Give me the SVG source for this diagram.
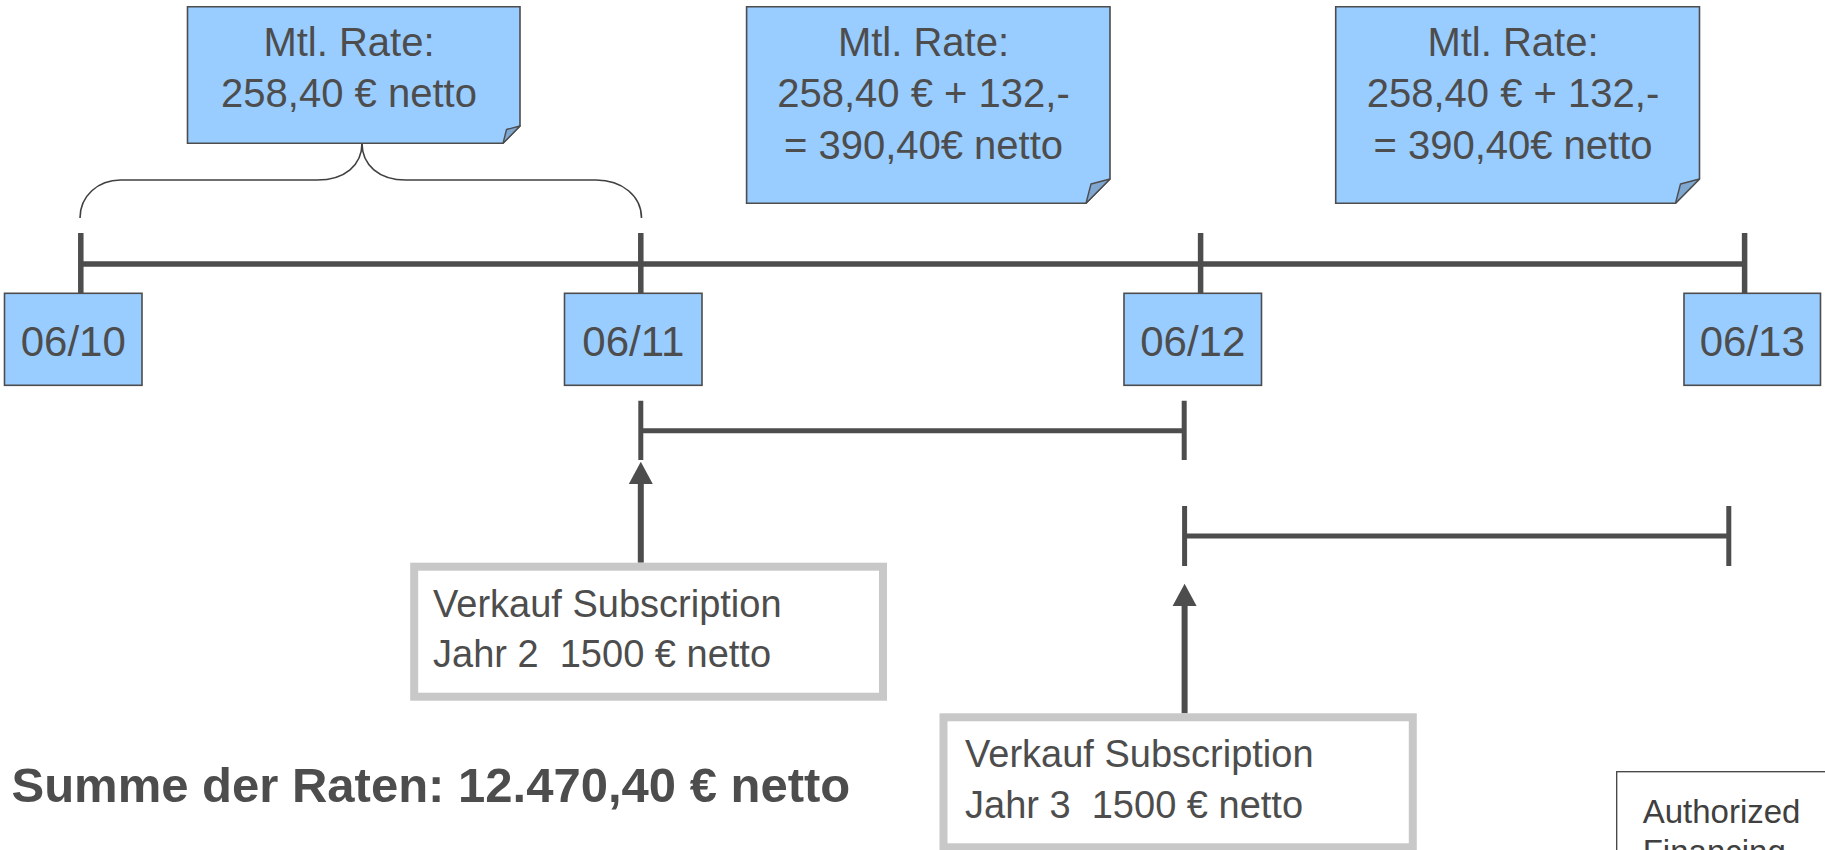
<svg xmlns="http://www.w3.org/2000/svg" width="1825" height="850" viewBox="0 0 1825 850">
<defs>
<style>
.note{fill:#99ccff;stroke:#4d4d4d;stroke-width:1.6;stroke-linejoin:miter}
.fold{fill:#7fa7d0;stroke:#4d4d4d;stroke-width:1.4;stroke-linejoin:round}
.date{fill:#99ccff;stroke:#4d4d4d;stroke-width:1.6}
.t{font-family:"Liberation Sans",Arial,sans-serif;fill:#4d4d4d}
.nt{font-size:40px;text-anchor:middle}
.dt{font-size:42px;text-anchor:middle}
.gt{font-size:38px}
.gbox{fill:#ffffff;stroke:#c8c8c8;stroke-width:8}
.bar{stroke:#4d4d4d;stroke-width:5.5;fill:none}
.bar2{stroke:#4d4d4d;stroke-width:5;fill:none}
.brace{stroke:#404040;stroke-width:1.6;fill:none}
.shaft{stroke:#4d4d4d;stroke-width:6;fill:none}
</style>
<marker id="ah" markerUnits="userSpaceOnUse" markerWidth="24" markerHeight="26" refX="0" refY="12" orient="auto" viewBox="0 0 24 24">
<path d="M0,0 L22.3,12 L0,24 Z" fill="#4d4d4d"/>
</marker>
</defs>

<g id="connectors">
<path class="bar" d="M80,264 H1744.6"/>
<path class="bar" d="M80.8,233 V293.3 M640.8,233 V293.3 M1200.6,233 V293.3 M1744.6,233 V293.3"/>
<path class="brace" d="M362,143.3 C362,165 345,180 317,180 H120.5 C98,180 80,196 80,218"/>
<path class="brace" d="M362,143.3 C362,165 379,180 406,180 H596 C622,180 641.5,196 641.5,218"/>
<path class="bar2" d="M640.8,400.7 V460 M640.8,430.7 H1184.2 M1184.2,400.7 V460"/>
<path class="bar2" d="M1184.6,506 V566 M1184.6,536 H1728.8 M1728.8,506 V566"/>
<path class="shaft" d="M640.8,562.7 V484" marker-end="url(#ah)"/>
<path class="shaft" d="M1184.6,713.3 V606" marker-end="url(#ah)"/>
</g>

<g id="note1">
<path class="note" d="M187.5,6.7 H520 V126 L503,143.3 H187.5 Z"/>
<path class="fold" d="M503,143.3 L506.5,129.5 L520,126 Z"/>
<text class="t nt" x="349" y="56">Mtl. Rate:</text>
<text class="t nt" x="349" y="107">258,40 € netto</text>
</g>

<g id="note2">
<path class="note" d="M746.6,6.7 H1110 V179 L1086,203.3 H746.6 Z"/>
<path class="fold" d="M1086,203.3 L1091,184 L1110,179 Z"/>
<text class="t nt" x="923.5" y="56">Mtl. Rate:</text>
<text class="t nt" x="923.5" y="107">258,40 € + 132,-</text>
<text class="t nt" x="923.5" y="158.7">= 390,40€ netto</text>
</g>

<g id="note3">
<path class="note" d="M1335.7,6.7 H1699.5 V179 L1675.5,203.3 H1335.7 Z"/>
<path class="fold" d="M1675.5,203.3 L1680.5,184 L1699.5,179 Z"/>
<text class="t nt" x="1513" y="56">Mtl. Rate:</text>
<text class="t nt" x="1513" y="107">258,40 € + 132,-</text>
<text class="t nt" x="1513" y="158.7">= 390,40€ netto</text>
</g>

<g id="d0610">
<rect class="date" x="4.5" y="293.3" width="137.5" height="92"/>
<text class="t dt" x="73.3" y="356">06/10</text>
</g>
<g id="d0611">
<rect class="date" x="564.5" y="293.3" width="137.5" height="92"/>
<text class="t dt" x="633.3" y="356">06/11</text>
</g>
<g id="d0612">
<rect class="date" x="1124" y="293.3" width="137.5" height="92"/>
<text class="t dt" x="1192.8" y="356">06/12</text>
</g>
<g id="d0613">
<rect class="date" x="1684" y="293.3" width="136.5" height="92"/>
<text class="t dt" x="1752.3" y="356">06/13</text>
</g>

<g id="sale2">
<rect class="gbox" x="414.2" y="566.7" width="468.8" height="130"/>
<text class="t gt" x="433" y="616.7">Verkauf Subscription</text>
<text class="t gt" x="433" y="667.3" xml:space="preserve">Jahr 2  1500 € netto</text>
</g>

<g id="sale3">
<rect class="gbox" x="943.5" y="717.3" width="469.3" height="130"/>
<text class="t gt" x="965" y="767.3">Verkauf Subscription</text>
<text class="t gt" x="965" y="818.3" xml:space="preserve">Jahr 3  1500 € netto</text>
</g>

<g id="summe">
<text class="t" x="11.5" y="801.7" font-size="49" font-weight="bold">Summe der Raten: 12.470,40 € netto</text>
</g>

<g id="authorized">
<rect x="1616.7" y="771.7" width="260" height="150" fill="#ffffff" stroke="#404040" stroke-width="1.3"/>
<text x="1642.7" y="823" font-family="'Liberation Sans',Arial,sans-serif" font-size="33" fill="#404040">Authorized</text>
<text x="1642.7" y="863" font-family="'Liberation Sans',Arial,sans-serif" font-size="33" fill="#404040">Financing</text>
</g>
</svg>
